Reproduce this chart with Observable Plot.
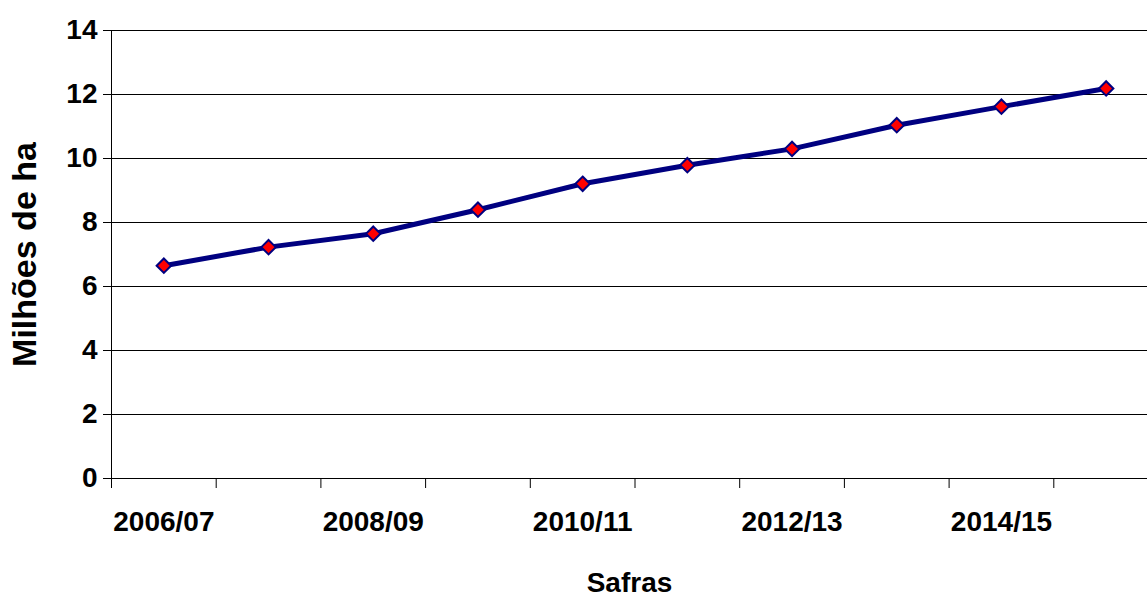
<!DOCTYPE html>
<html>
<head>
<meta charset="utf-8">
<script src="https://cdn.jsdelivr.net/npm/d3@7"></script>
<script src="https://cdn.jsdelivr.net/npm/@observablehq/plot@0.6"></script>
<style>
  html, body { margin: 0; padding: 0; background: #fff; }
</style>
</head>
<body>
<div id="chart"></div>
<script>
// Safras (crop seasons) and planted area in millions of hectares
const safras = ["2006/07", "2007/08", "2008/09", "2009/10", "2010/11",
                "2011/12", "2012/13", "2013/14", "2014/15", "2015/16"];
const area = [6.65, 7.23, 7.65, 8.40, 9.21, 9.79, 10.30, 11.04, 11.62, 12.19];
const yTicks = [0, 2, 4, 6, 8, 10, 12, 14];
const yTitle = "Milhões de ha";
const xTitle = "Safras";

const data = safras.map((s, i) => ({safra: s, pos: i + 0.5, area: area[i]}));

// season boundaries get tick marks; every other season gets a label
const boundaries = d3.range(safras.length + 1);
const labelled = data.filter((d, i) => i % 2 === 0).map(d => d.pos);

const chart = Plot.plot({
  width: 1147,
  height: 597,
  marginLeft: 111,
  marginRight: 0,
  marginTop: 30,
  marginBottom: 119,
  style: {
    fontFamily: "'Liberation Sans', Arial, sans-serif",
    fontSize: "28px",
    fontWeight: "bold",
    color: "#000",
    background: "#fff"
  },
  x: {domain: [0, safras.length], range: [111, 1158]},
  y: {domain: [0, 14], range: [478, 30]},
  marks: [
    Plot.ruleY(yTicks, {stroke: "#000", strokeWidth: 1, strokeOpacity: 1}),
    Plot.ruleX([0], {y1: 0, y2: 14, stroke: "#000", strokeWidth: 1}),
    Plot.axisY({ticks: yTicks, tickSize: 8, tickPadding: 6, label: null}),
    // larger rotated title centred on the plot frame
    Plot.text([yTitle], {frameAnchor: "left", textAnchor: "middle", rotate: -90, dx: -86,
                         fontSize: 34, fontWeight: "bold", fill: "#000"}),
    Plot.axisX({ticks: boundaries, tickSize: 10, tickFormat: () => "", label: null}),
    Plot.axisX({
      ticks: labelled, tickSize: 0, tickPadding: 33,
      tickFormat: v => safras[Math.floor(v)],
      label: xTitle, labelAnchor: "center", labelOffset: 113, labelArrow: "none"
    }),
    Plot.line(data, {x: "pos", y: "area", stroke: "#000080", strokeWidth: 5}),
    Plot.dot(data, {x: "pos", y: "area", symbol: "diamond2", r: 6.5,
                    fill: "#ff0000", stroke: "#000080", strokeWidth: 2})
  ]
});

document.getElementById("chart").appendChild(chart);
</script>
</body>
</html>
